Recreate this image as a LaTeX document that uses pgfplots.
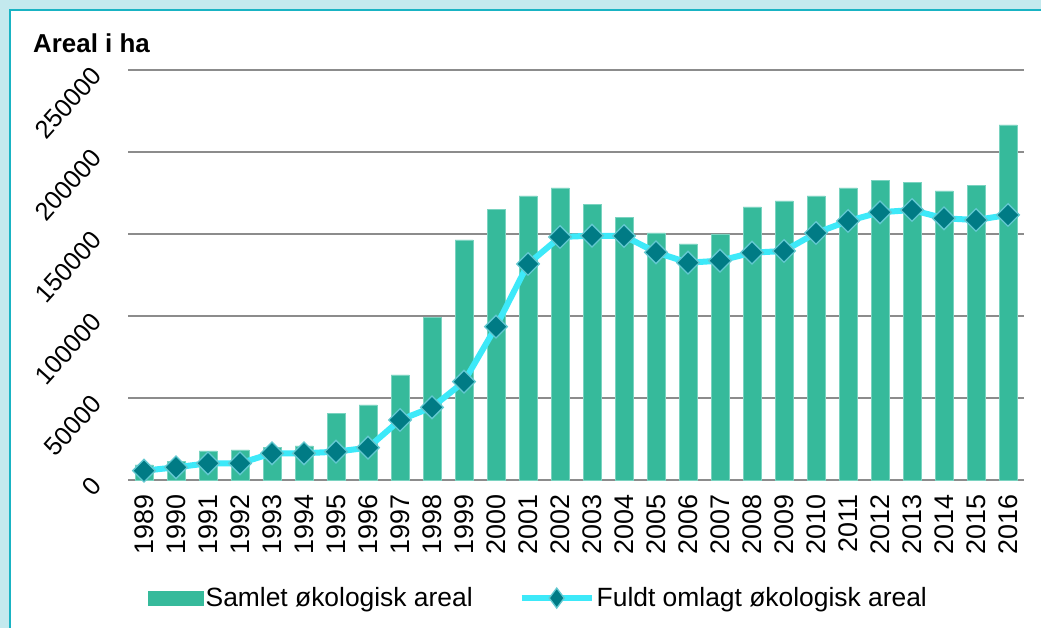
\documentclass[border=0pt]{standalone}
\usepackage{fontspec}
\setmainfont{Liberation Sans}
\usepackage{pgfplots}
\pgfplotsset{compat=1.18}
\definecolor{bgcyan}{HTML}{C3E9EE}
\definecolor{bordercyan}{HTML}{19B3C3}
\definecolor{barteal}{HTML}{36BA9B}
\definecolor{baredge}{HTML}{7AD3C0}
\definecolor{linecyan}{HTML}{3DE9F9}
\definecolor{markteal}{HTML}{007B85}
\definecolor{markedge}{HTML}{62C8D0}
\definecolor{gridgray}{HTML}{8C8C8C}
\pgfplotsset{
  mylineleg/.style={legend image code/.code={\draw[mark repeat=2,mark phase=2,##1, mark=diamond*, mark size=10bp, mark options={rotate=0, fill=markteal, draw=markedge, line width=1.3bp}] plot coordinates {(0bp,0bp) (35bp,0bp) (70bp,0bp)};}},
  mybarleg/.style={legend image code/.code={\fill[barteal] (0bp,-7bp) rectangle (55bp,7bp);}},
}
\begin{document}
\begin{tikzpicture}[x=1bp,y=1bp]
\useasboundingbox (0,0) rectangle (1041,628);
\fill[bgcyan] (0,0) rectangle (1041,628);
\fill[white] (10,0) rectangle (1041,618);
\draw[bordercyan, line width=2bp] (10,0) -- (10,618) -- (1041,618);
\node[anchor=base west, inner sep=0pt, font=\fontsize{26}{30}\selectfont\bfseries] at (33,575) {Areal i ha};
\begin{axis}[
  at={(128bp,148bp)}, anchor=south west,
  scale only axis, width=896bp, height=410bp,
  xmin=-0.5, xmax=27.5, ymin=0, ymax=250000,
  ytick={0,50000,100000,150000,200000,250000},
  xtick={0,...,27},
  xticklabels={1989,1990,1991,1992,1993,1994,1995,1996,1997,1998,1999,2000,2001,2002,2003,2004,2005,2006,2007,2008,2009,2010,2011,2012,2013,2014,2015,2016},
  scaled y ticks=false,
  /pgf/number format/assume math mode=true,
  yticklabel style={/pgf/number format/1000 sep={}, /pgf/number format/fixed, xshift=-30bp, rotate=48, anchor=east, font=\fontsize{25.5}{30}\selectfont, inner sep=2bp},
  xticklabel shift=12bp,
  xticklabel style={rotate=90, anchor=east, font=\fontsize{27}{30}\selectfont, inner sep=2bp},
  major tick length=0pt,
  axis line style={draw=none},
  ymajorgrids, grid style={gridgray, line width=1.6bp},
  clip=false,
  legend style={at={(0.458,-0.288)}, anchor=center, draw=none, fill=none,
    legend columns=2, font=\fontsize{26.5}{30}\selectfont,
    nodes={inner sep=2bp},
    /tikz/every even column/.append style={column sep=44bp}},
  legend cell align=left,
]
\addplot[ybar, bar width=18bp, fill=barteal, draw=baredge, line width=0.8bp, mybarleg]
coordinates {
(0,9150) (1,11160) (2,17680) (3,18290) (4,19700) (5,20730) (6,40670) (7,45730)
(8,64020) (9,98960) (10,146340) (11,165060) (12,173170) (13,178050) (14,168110)
(15,159940) (16,150610) (17,143900) (18,150000) (19,166460) (20,170120) (21,173170)
(22,178050) (23,182740) (24,181520) (25,176220) (26,179450) (27,216460)
};
\addlegendentry{Samlet økologisk areal}
\addplot[linecyan, line width=6bp, mark=square*, mark size=8bp,
  mark options={rotate=45, fill=markteal, draw=markedge, line width=1.3bp},
  mylineleg]
coordinates {
(0,5670) (1,7740) (2,10180) (3,10180) (4,16280) (5,16280) (6,17260) (7,19700)
(8,36590) (9,44330) (10,59940) (11,93480) (12,131710) (13,148170) (14,148960)
(15,148780) (16,138840) (17,132500) (18,133720) (19,138600) (20,139630) (21,150610)
(22,157930) (23,163230) (24,164630) (25,159570) (26,158540) (27,161590)
};
\addlegendentry{Fuldt omlagt økologisk areal}
\end{axis}
\end{tikzpicture}
\end{document}
